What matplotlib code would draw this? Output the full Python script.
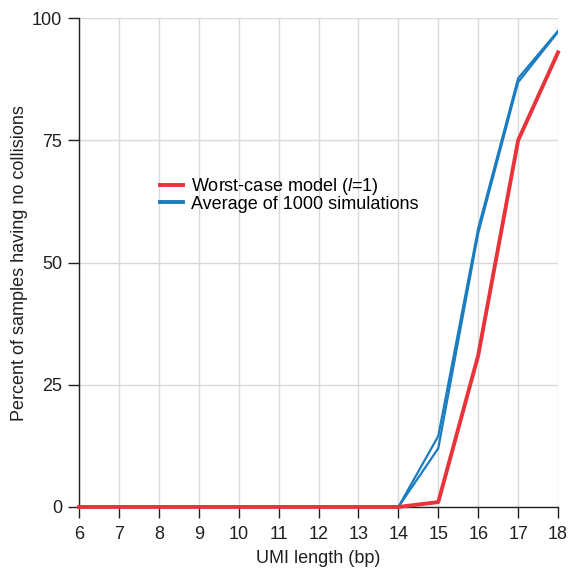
import matplotlib
matplotlib.use("Agg")
import matplotlib.pyplot as plt

plt.rcParams['font.family'] = ['Liberation Sans', 'DejaVu Sans']
plt.rcParams['mathtext.fontset'] = 'custom'
plt.rcParams['mathtext.it'] = 'Liberation Sans:italic'
plt.rcParams['mathtext.rm'] = 'Liberation Sans'

umi_length = [6, 7, 8, 9, 10, 11, 12, 13, 14, 15, 16, 17, 18]
worst_case = [0, 0, 0, 0, 0, 0, 0, 0, 0, 1, 31, 75, 93]
sim_avg_a = [0, 0, 0, 0, 0, 0, 0, 0, 0, 14.5, 57, 87.7, 97.4]
sim_avg_b = [0, 0, 0, 0, 0, 0, 0, 0, 0, 12, 56, 86.9, 97.2]

red = '#e8333b'
blue = '#1a7dc0'
ink = '#231f20'

fig = plt.figure(figsize=(5.7, 5.69), dpi=100)
ax = fig.add_axes([0.1386, 0.109, 0.8404, 0.859])

ax.plot(umi_length, sim_avg_a, color=blue, lw=1.6, label='Average of 1000 simulations', zorder=3)
ax.plot(umi_length, sim_avg_b, color=blue, lw=1.6, zorder=3)
ax.plot(umi_length, worst_case, color=red, lw=2.8, label='Worst-case model ($\\it{l}$=1)',
        zorder=4, clip_on=False)

ax.set_xlim(6, 18)
ax.set_ylim(0, 100)
ax.set_xticks(umi_length)
ax.set_yticks([0, 25, 50, 75, 100])
ax.grid(True, color='#d9d9d9', lw=1)
ax.set_axisbelow(True)

for side in ['top', 'right']:
    ax.spines[side].set_visible(False)
for side in ['left', 'bottom']:
    ax.spines[side].set_linewidth(1.0)
    ax.spines[side].set_color(ink)
ax.tick_params(direction='out', length=8, width=1, labelsize=13, colors=ink)
ax.tick_params(axis='x', pad=6)
ax.tick_params(axis='y', pad=4)

ax.set_xlabel('UMI length (bp)', fontsize=13, color=ink, labelpad=5)
ax.set_ylabel('Percent of samples having no collisions', fontsize=13, color=ink, labelpad=3)

handles, labels = ax.get_legend_handles_labels()
leg = ax.legend(handles[::-1], labels[::-1], loc='upper left', bbox_to_anchor=(0.265, 0.706),
                bbox_transform=fig.transFigure, frameon=False, fontsize=13,
                handlelength=1.25, handletextpad=0.45, labelspacing=-0.1, borderpad=0)
for line in leg.get_lines():
    line.set_linewidth(2.8)

fig.savefig('out.png', dpi=100)
